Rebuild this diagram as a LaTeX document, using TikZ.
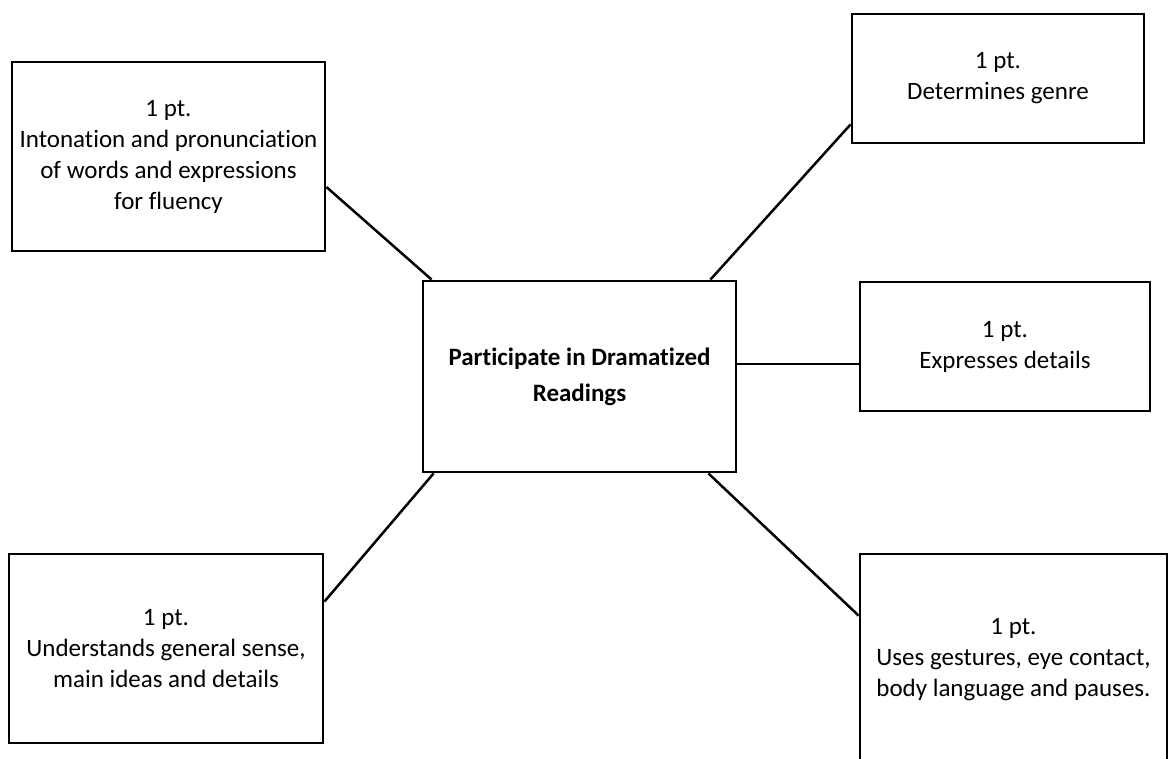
\documentclass[tikz,border=0pt]{standalone}
\usepackage{fontspec}
\setmainfont{Carlito}[Ligatures=NoCommon]

\begin{document}
\begin{tikzpicture}[x=1pt,y=-1pt,
    box/.style={draw, line width=2.8pt, align=center, inner sep=0pt,
                font=\fontsize{25}{31}\selectfont},
    link/.style={line width=2.5pt}]
  \useasboundingbox (0,0) rectangle (1170,759);
  \clip (0,0) rectangle (1170,759);

  \node[box, font=\bfseries\fontsize{25}{36}\selectfont,
        minimum width=313pt, minimum height=191pt] (ctr) at (579.5,376.5)
        {Participate in Dramatized\\Readings};

  \node[box, minimum width=313pt, minimum height=189pt] (tl) at (168.5,156.5)
        {1 pt.\\Intonation and pronunciation\\of words and expressions\\for fluency};
  \node[box, minimum width=292pt, minimum height=129pt] (tr) at (998,78.5)
        {1 pt.\\Determines genre};
  \node[box, minimum width=290pt, minimum height=129pt] (mr) at (1005,346.5)
        {1 pt.\\Expresses details};
  \node[box, minimum width=314pt, minimum height=189pt] (bl) at (166,648.5)
        {1 pt.\\Understands general sense,\\main ideas and details};
  \node[box, minimum width=307pt, minimum height=212pt] (br) at (1013.5,660)
        {1 pt.\\Uses gestures, eye contact,\\body language and pauses.};

  % spokes out of the centre box
  \draw[link] ([yshift=-30.5pt]tl.east) -- ([xshift=10pt]ctr.north west);
  \draw[link] ([xshift=-27pt]ctr.north east) -- ([yshift=20pt]tr.south west);
  \draw[link] ([yshift=12.5pt]ctr.east) coordinate (m) -- (m -| mr.west);
  \draw[link] ([xshift=12pt]ctr.south west) -- ([yshift=-49pt]bl.north east);
  \draw[link] ([xshift=-29pt]ctr.south east) -- ([yshift=-63pt]br.north west);
\end{tikzpicture}
\end{document}
